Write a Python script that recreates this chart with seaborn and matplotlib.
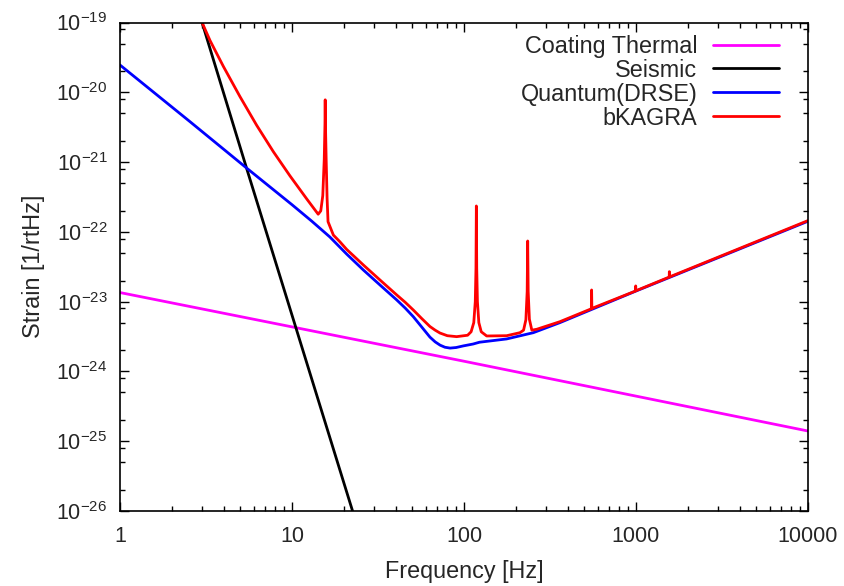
import numpy as np
import pandas as pd
import matplotlib
matplotlib.use("Agg")
import matplotlib.pyplot as plt
import matplotlib.ticker as mticker
import seaborn as sns

# ==================================================
# DATA
# ==================================================

coating_freq = [1.0, 100.0, 10000.0]
coating_strain = [1.35e-23, 1.4e-24, 1.4e-25]

seismic_freq = [3.0, 5.45, 22.5]
seismic_strain = [1.0e-19, 8.1e-22, 1.0e-26]

quantum_freq = [1.0, 2.55, 5.45, 10.0, 13.0, 16.6, 20.8, 26.0, 32.5, 40.6,
                45.5, 50.7, 56.7, 63.4, 68.0, 72.6, 77.5, 83.0, 90.0, 99.0,
                113.0, 123.0, 177.0, 253.0, 361.0, 1000.0, 10000.0]
quantum_strain = [2.46e-20, 3.8e-21, 8.2e-22, 2.45e-22, 1.43e-22, 8.45e-23,
                  4.8e-23, 2.84e-23, 1.73e-23, 1.06e-23, 8.1e-24, 6.1e-24,
                  4.35e-24, 3.1e-24, 2.65e-24, 2.38e-24, 2.22e-24, 2.16e-24,
                  2.2e-24, 2.32e-24, 2.47e-24, 2.62e-24, 2.92e-24, 3.59e-24,
                  5.0e-24, 1.42e-23, 1.42e-22]

bkagra_freq = [3.0, 3.34, 3.99, 4.98, 6.23, 7.79, 9.73, 12.2, 14.2, 14.7,
               15.1, 15.4, 15.55, 15.6, 15.65, 15.8, 16.0, 16.2, 17.4, 19.0,
               20.8, 26.0, 32.5, 40.6, 45.5, 50.7, 56.7, 63.4, 68.0, 72.5,
               80.0, 90.6, 105.0, 110.0, 114.0, 116.3, 117.4, 118.0, 118.6,
               119.7, 122.0, 126.0, 135.5, 177.0, 211.6, 222.0, 229.0, 233.0,
               234.6, 236.2, 240.0, 248.0, 265.0, 361.0, 550.0, 552.0, 554.0,
               994.0, 996.0, 998.0, 1560.0, 1563.0, 1566.0, 10000.0]
bkagra_strain = [1.0e-19, 5.5e-20, 2.35e-20, 8.7e-21, 3.37e-21, 1.41e-21,
                 6.35e-22, 2.95e-22, 1.79e-22, 2.0e-22, 3.3e-22, 1.1e-21,
                 3.5e-21, 7.8e-21, 3.5e-21, 1.1e-21, 3.0e-22, 1.4e-22,
                 9.0e-23, 7.2e-23, 5.6e-23, 3.35e-23, 2.04e-23, 1.25e-23,
                 9.8e-24, 7.6e-24, 5.75e-24, 4.4e-24, 3.9e-24, 3.55e-24,
                 3.25e-24, 3.15e-24, 3.3e-24, 3.7e-24, 5.0e-24, 1.0e-23,
                 3.0e-23, 2.35e-22, 3.0e-23, 1.0e-23, 5.0e-24, 3.7e-24,
                 3.22e-24, 3.25e-24, 3.59e-24, 3.9e-24, 5.5e-24, 1.4e-23,
                 7.4e-23, 1.4e-23, 5.6e-24, 3.9e-24, 4.02e-24, 5.16e-24,
                 7.9e-24, 1.47e-23, 8.0e-24, 1.42e-23, 1.68e-23, 1.43e-23,
                 2.25e-23, 2.69e-23, 2.26e-23, 1.45e-22]

series = [
    ("Coating Thermal", coating_freq, coating_strain, "#ff00ff"),
    ("Seismic", seismic_freq, seismic_strain, "#000000"),
    ("Quantum(DRSE)", quantum_freq, quantum_strain, "#0000ff"),
    ("bKAGRA", bkagra_freq, bkagra_strain, "#ff0000"),
]

x_ticks = [1, 10, 100, 1000, 10000]
y_ticks = [1e-26, 1e-25, 1e-24, 1e-23, 1e-22, 1e-21, 1e-20, 1e-19]

# ==================================================
# STYLE
# ==================================================

sns.set_theme(style="ticks")
plt.rcParams["font.family"] = ["Liberation Sans", "DejaVu Sans"]
plt.rcParams["mathtext.default"] = "regular"
plt.rcParams["axes.linewidth"] = 1.2

# ==================================================
# PLOT
# ==================================================

fig = plt.figure(figsize=(8.45, 5.86), dpi=100)
ax = fig.add_axes([0.142, 0.128, 0.8142, 0.8336])
ax.set_xscale("log")
ax.set_yscale("log")

for name, freq, strain, color in series:
    df = pd.DataFrame({"freq": freq, "strain": strain})
    sns.lineplot(
        data=df,
        x="freq",
        y="strain",
        ax=ax,
        color=color,
        linewidth=2,
        label=name,
        estimator=None,
        sort=False,
    )

ax.set_xlim(1, 10000)
ax.set_ylim(1e-26, 1e-19)

ax.xaxis.set_major_locator(mticker.FixedLocator(x_ticks))
ax.xaxis.set_minor_locator(
    mticker.LogLocator(base=10, subs=np.arange(2, 10), numticks=20)
)
ax.xaxis.set_major_formatter(mticker.FormatStrFormatter("%d"))
ax.xaxis.set_minor_formatter(mticker.NullFormatter())

ax.yaxis.set_major_locator(mticker.FixedLocator(y_ticks))
ax.yaxis.set_major_formatter(mticker.LogFormatterSciNotation())
ax.yaxis.set_minor_locator(
    mticker.LogLocator(base=10, subs=(2.0, 5.0, 8.0), numticks=30)
)
ax.yaxis.set_minor_formatter(mticker.NullFormatter())

ax.tick_params(which="both", direction="in", top=True, right=True,
               width=1.0, color="black")
ax.tick_params(which="major", length=6.5, labelsize=15.5)
ax.tick_params(which="minor", length=3.6)
ax.tick_params(axis="x", which="major", pad=11)
ax.tick_params(axis="y", which="major", pad=9)

for spine in ax.spines.values():
    spine.set_color("black")

ax.set_xlabel("Frequency [Hz]", fontsize=16.8, labelpad=9)
ax.set_ylabel("Strain [1/rtHz]", fontsize=16.8, labelpad=8)

ax.legend(
    loc="upper right",
    bbox_to_anchor=(0.958, 0.975),
    frameon=False,
    markerfirst=False,
    fontsize=16.8,
    handlelength=2.85,
    handletextpad=0.65,
    labelspacing=0.04,
    borderpad=0,
    borderaxespad=0,
)

fig.savefig("out.png", dpi=100)
plt.close(fig)
